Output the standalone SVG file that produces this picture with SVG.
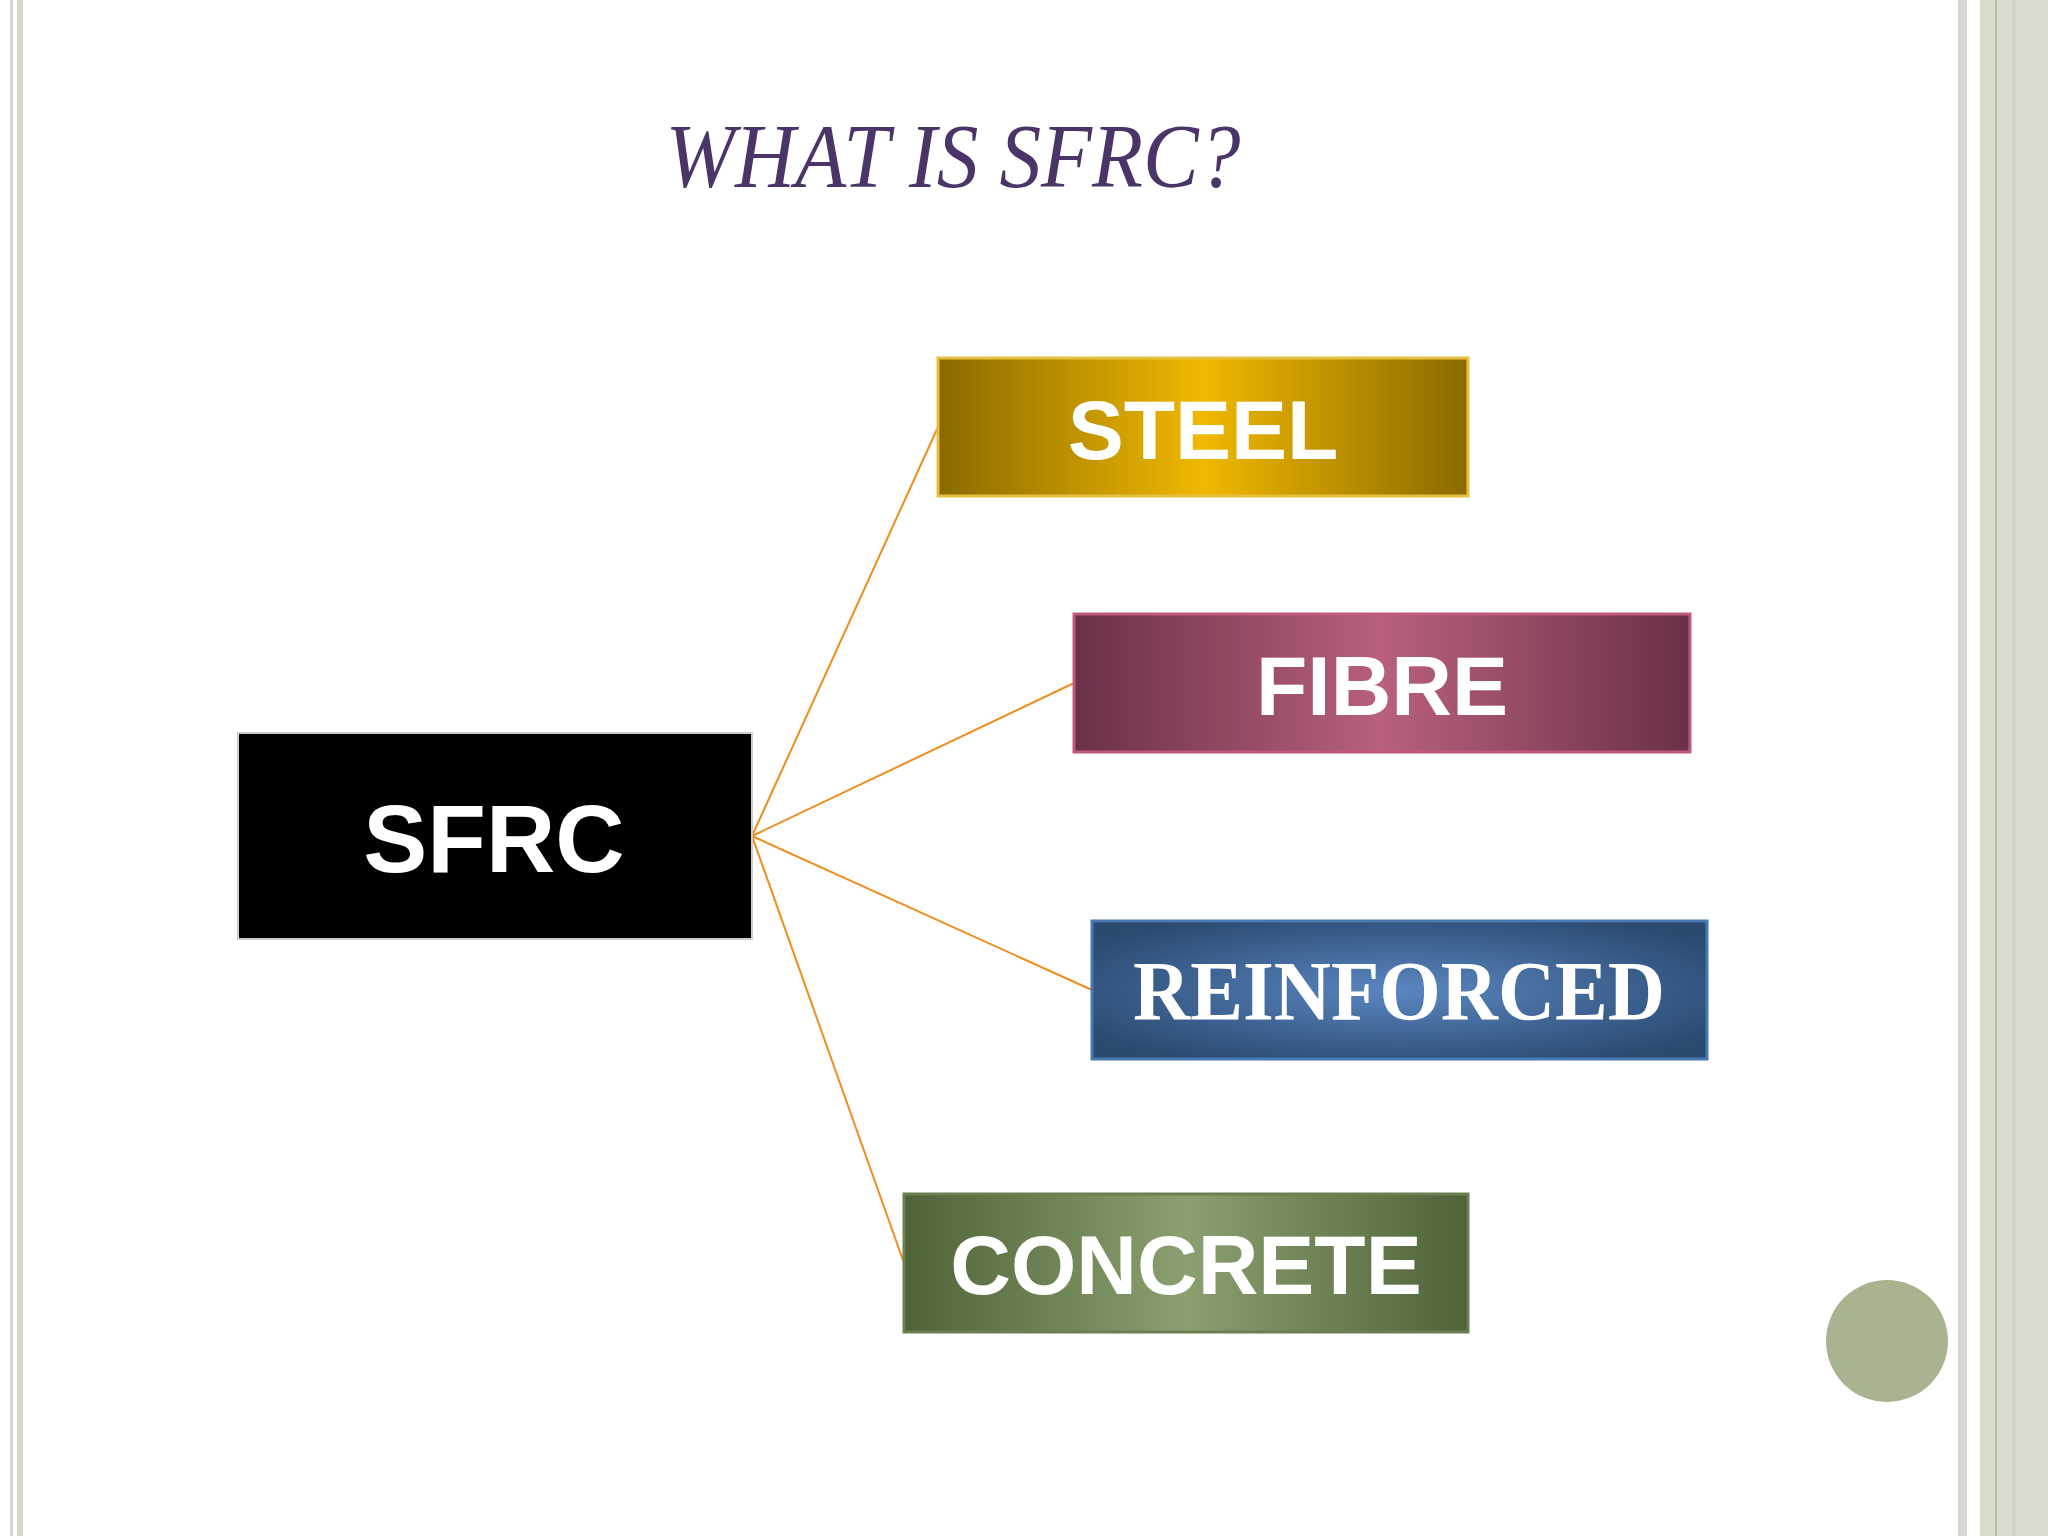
<svg xmlns="http://www.w3.org/2000/svg" width="2048" height="1536" viewBox="0 0 2048 1536">
<defs>
<linearGradient id="gS" x1="0" x2="1"><stop offset="0" stop-color="#8a6a00"/><stop offset="0.5" stop-color="#f0b800"/><stop offset="1" stop-color="#8a6a00"/></linearGradient>
<linearGradient id="gF" x1="0" x2="1"><stop offset="0" stop-color="#6a3048"/><stop offset="0.5" stop-color="#b8607e"/><stop offset="1" stop-color="#6a3048"/></linearGradient>
<radialGradient id="gR" cx="0.5" cy="0.5" r="0.6"><stop offset="0" stop-color="#5a86c0"/><stop offset="1" stop-color="#2a4a70"/></radialGradient>
<linearGradient id="gC" x1="0" x2="1"><stop offset="0" stop-color="#4e6438"/><stop offset="0.5" stop-color="#8aa070"/><stop offset="1" stop-color="#4e6438"/></linearGradient>
</defs>
<style>
.bx{stroke-width:3}
.t{font-family:"Liberation Sans",Arial,sans-serif;font-weight:bold;fill:#fff;text-anchor:middle}
.c{stroke:#f08c1e;stroke-width:2;fill:none}
</style>
<rect width="2048" height="1536" fill="#fff"/>
<rect x="10" y="0" width="3" height="1536" fill="#d4d8d0"/>
<rect x="17" y="0" width="6" height="1536" fill="#d4d8d0"/>
<rect x="1958" y="0" width="9" height="1536" fill="#d4d8d0"/>
<rect x="1980" y="0" width="68" height="1536" fill="#d8dccc"/>
<rect x="1995" y="0" width="2" height="1536" fill="#b8c0a8"/>
<rect x="2012" y="0" width="4" height="1536" fill="#d0d4c4"/>
<text x="953" y="187" font-family="Liberation Serif,serif" font-style="italic" font-size="92" fill="#4a3468" text-anchor="middle" textLength="575" lengthAdjust="spacingAndGlyphs">WHAT IS SFRC?</text>
<g id="connectors">
<line class="c" x1="752" y1="836" x2="938" y2="427"/>
<line class="c" x1="752" y1="836" x2="1074" y2="683"/>
<line class="c" x1="752" y1="836" x2="1092" y2="990"/>
<line class="c" x1="752" y1="836" x2="904" y2="1263"/>
</g>
<g id="sfrc"><rect x="238" y="733" width="514" height="206" fill="#000" stroke="#ccc" stroke-width="2"/><text class="t" x="494" y="872" font-size="96">SFRC</text></g>
<g id="steel"><rect class="bx" x="938" y="358" width="530" height="138" fill="url(#gS)" stroke="#e8c040"/><text class="t" x="1203" y="459" font-size="84">STEEL</text></g>
<g id="fibre"><rect class="bx" x="1074" y="614" width="616" height="138" fill="url(#gF)" stroke="#c05880"/><text class="t" x="1382" y="715" font-size="84">FIBRE</text></g>
<g id="reinforced"><rect class="bx" x="1092" y="921" width="615" height="138" fill="url(#gR)" stroke="#4a78b0"/><text x="1399" y="1020" font-family="Liberation Serif,serif" font-weight="bold" font-size="84" fill="#fff" text-anchor="middle" textLength="532" lengthAdjust="spacingAndGlyphs">REINFORCED</text></g>
<g id="concrete"><rect class="bx" x="904" y="1194" width="564" height="138" fill="url(#gC)" stroke="#6a8050"/><text class="t" x="1186" y="1294" font-size="84">CONCRETE</text></g>
<circle cx="1887" cy="1341" r="61" fill="#a8b490"/>
</svg>
